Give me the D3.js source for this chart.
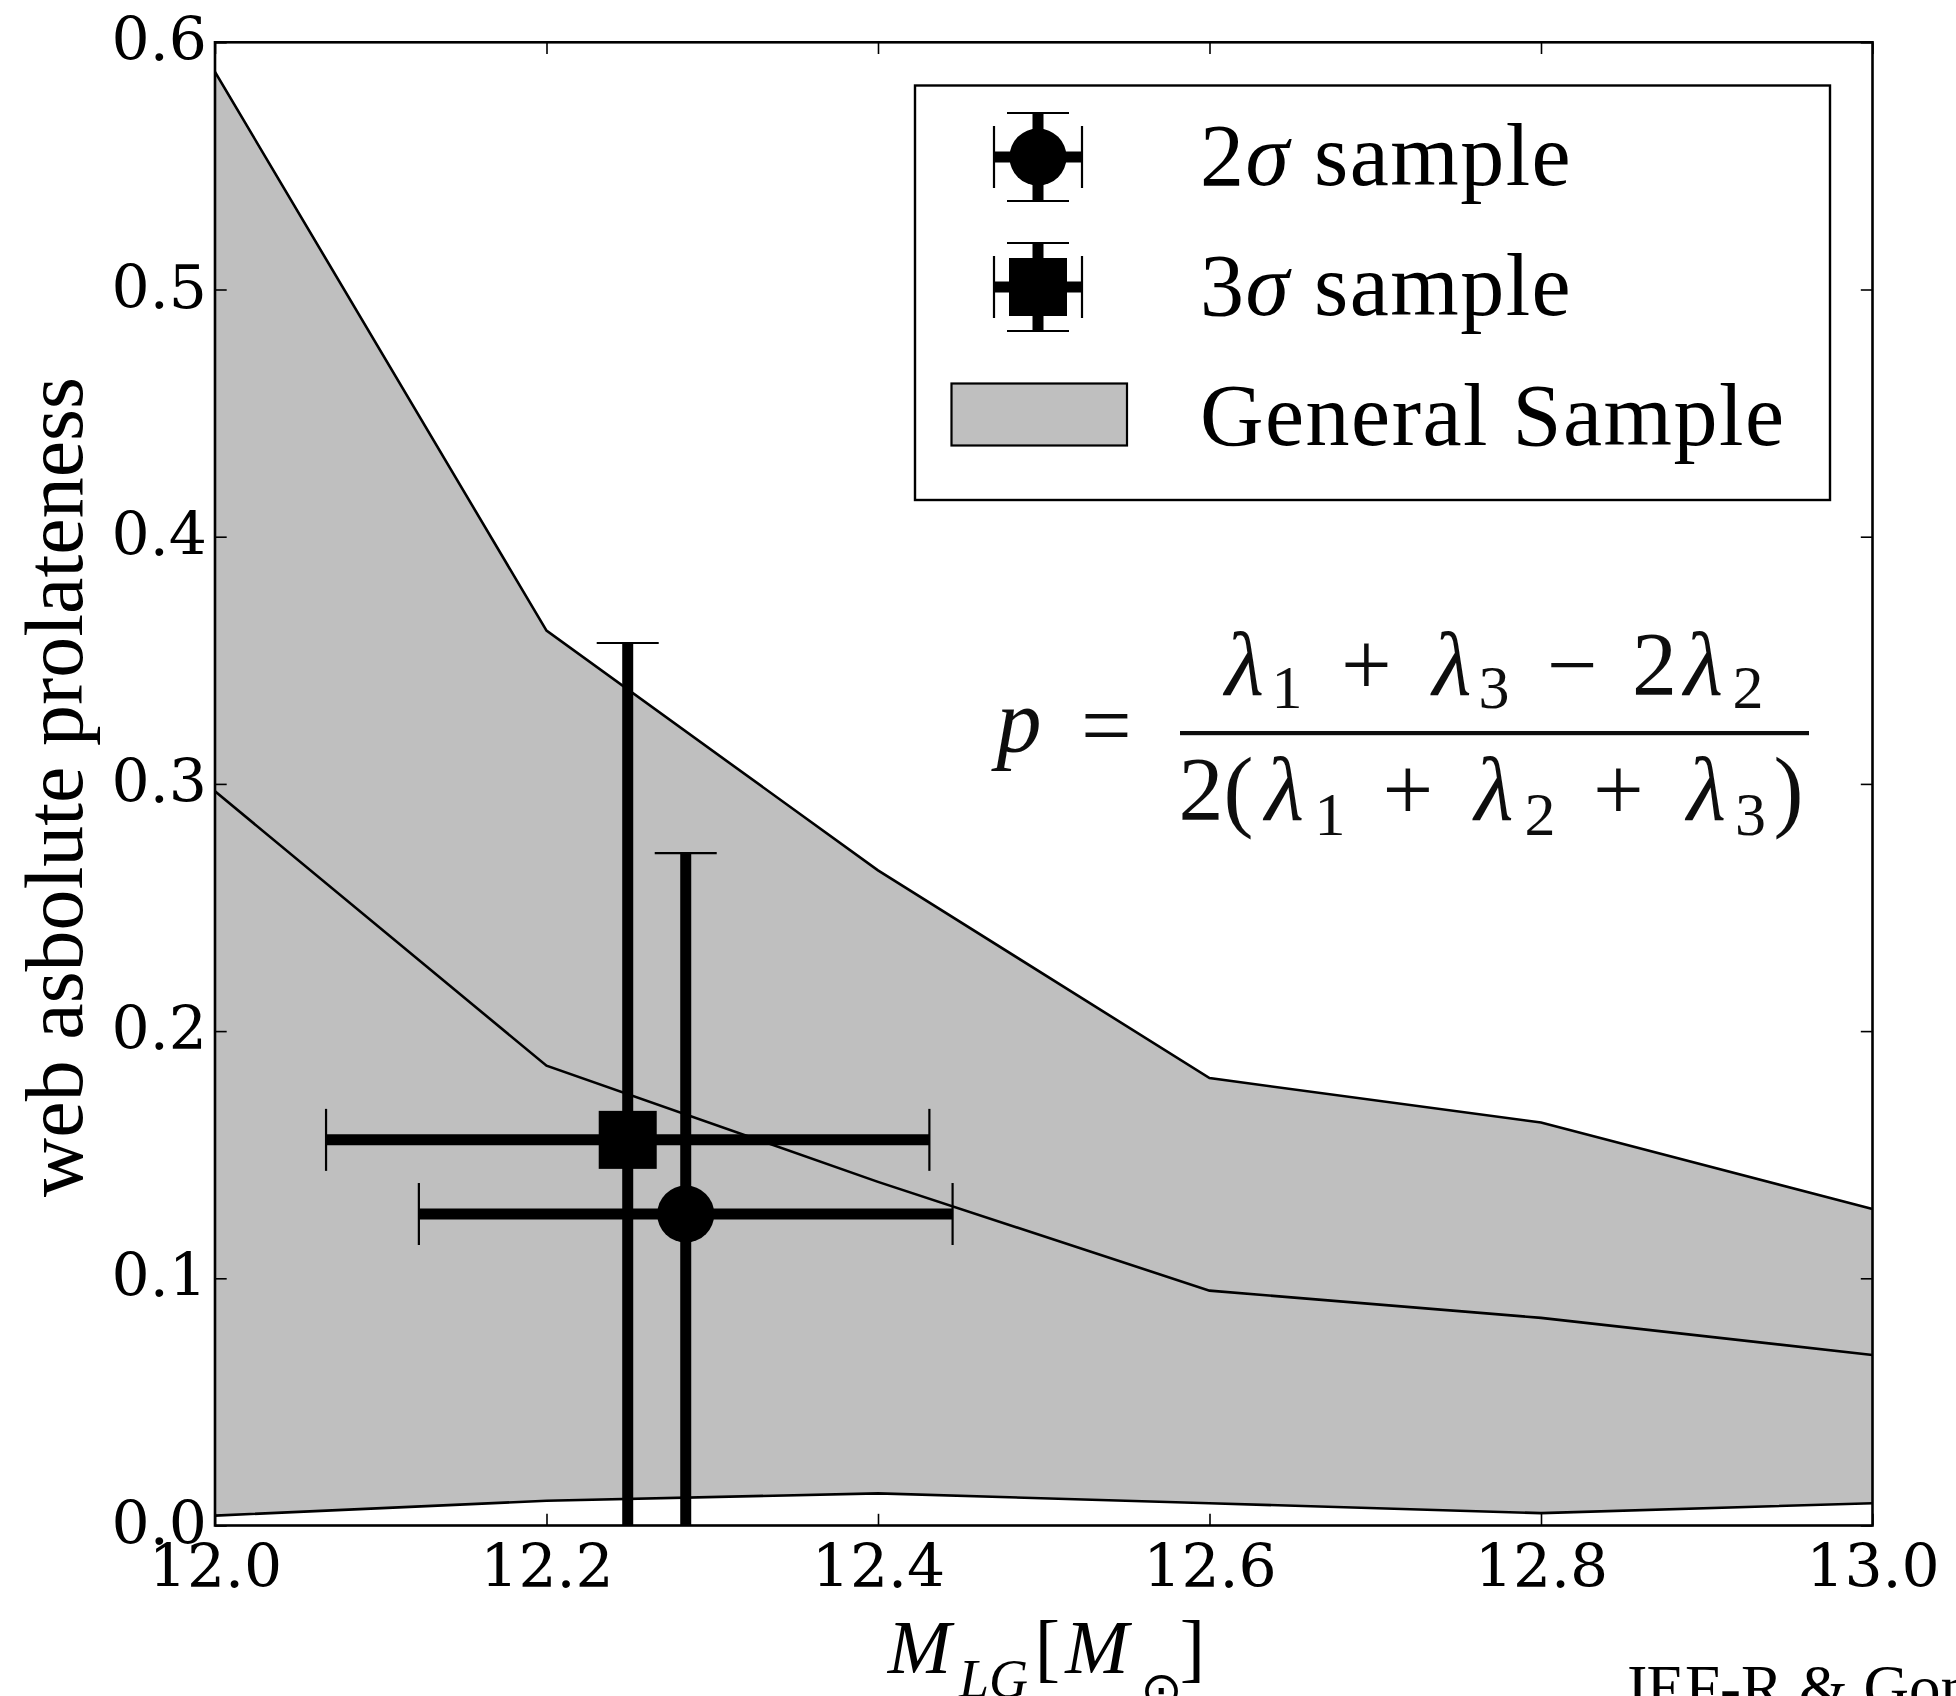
<!DOCTYPE html>
<html>
<head>
<meta charset="utf-8">
<script src="https://cdn.jsdelivr.net/npm/d3@7"></script>
<style>
  html, body { margin: 0; padding: 0; background: #ffffff; }
  svg { display: block; }
</style>
</head>
<body>
<svg id="chart" width="1956" height="1696"></svg>
<script>
// Local Group mass grid and the prolateness band of the general sample
const massGrid   = [12.0, 12.2, 12.4, 12.6, 12.8, 13.0];
const upperBound = [0.588, 0.362, 0.265, 0.181, 0.163, 0.128];
const medianLine = [0.297, 0.186, 0.139, 0.095, 0.084, 0.069];
const lowerBound = [0.004, 0.010, 0.013, 0.009, 0.005, 0.009];

// Constrained samples: mean mass and prolateness with their spreads
const sampleNames          = ["2σ sample", "3σ sample"];
const sampleMarkers        = ["circle", "square"];
const sampleMass           = [12.284, 12.249];
const sampleMassErr        = [0.161, 0.182];
const sampleProlateness    = [0.126, 0.156];
const sampleProlatenessErr = [0.146, 0.201];

// Axis ticks
const xTicks = [12.0, 12.2, 12.4, 12.6, 12.8, 13.0];
const yTicks = [0.0, 0.1, 0.2, 0.3, 0.4, 0.5, 0.6];

const svg = d3.select("#chart");
const plot = { left: 215, right: 1872.5, top: 42.3, bottom: 1525.5 };

const x = d3.scaleLinear().domain([12.0, 13.0]).range([plot.left, plot.right]);
const y = d3.scaleLinear().domain([0.0, 0.6]).range([plot.bottom, plot.top]);

const SERIF = "'Liberation Serif', 'Times New Roman', serif";
const TICKFONT = "'DejaVu Serif', serif";

svg.append("defs").append("clipPath").attr("id", "plot-clip")
  .append("rect")
  .attr("x", plot.left).attr("y", plot.top)
  .attr("width", plot.right - plot.left).attr("height", plot.bottom - plot.top);

const blur = svg.select("defs").append("filter").attr("id", "soft")
  .attr("x", "-5%").attr("y", "-5%").attr("width", "110%").attr("height", "110%");
blur.append("feGaussianBlur").attr("stdDeviation", 0.7);

const band = massGrid.map((m, i) => ({ m, lo: lowerBound[i], hi: upperBound[i], mid: medianLine[i] }));

const data = svg.append("g").attr("clip-path", "url(#plot-clip)");

// general sample band
data.append("path")
  .datum(band)
  .attr("d", d3.area().x(d => x(d.m)).y0(d => y(d.lo)).y1(d => y(d.hi)))
  .attr("fill", "#bfbfbf")
  .attr("stroke", "none");

const lineFor = key => d3.line().x(d => x(d.m)).y(d => y(d[key]));
["hi", "lo", "mid"].forEach(key => {
  data.append("path")
    .datum(band)
    .attr("d", lineFor(key))
    .attr("fill", "none")
    .attr("stroke", "#000")
    .attr("stroke-width", 2.6)
    .attr("stroke-linejoin", "miter");
});

// error bars with caps and markers
const BAR_W = 11, CAP = 31, CAP_W = 2.2;
function drawErrorCross(g, cx, cy, x0, x1, y0, y1, marker) {
  g.append("line").attr("x1", cx).attr("x2", cx).attr("y1", y0).attr("y2", y1)
    .attr("stroke", "#000").attr("stroke-width", BAR_W);
  g.append("line").attr("x1", x0).attr("x2", x1).attr("y1", cy).attr("y2", cy)
    .attr("stroke", "#000").attr("stroke-width", BAR_W);
  [y0, y1].forEach(yy => g.append("line")
    .attr("x1", cx - CAP).attr("x2", cx + CAP).attr("y1", yy).attr("y2", yy)
    .attr("stroke", "#000").attr("stroke-width", CAP_W));
  [x0, x1].forEach(xx => g.append("line")
    .attr("x1", xx).attr("x2", xx).attr("y1", cy - CAP).attr("y2", cy + CAP)
    .attr("stroke", "#000").attr("stroke-width", CAP_W));
  if (marker === "circle") {
    g.append("circle").attr("cx", cx).attr("cy", cy).attr("r", 28.5).attr("fill", "#000");
  } else {
    g.append("rect").attr("x", cx - 29).attr("y", cy - 29).attr("width", 58).attr("height", 58).attr("fill", "#000");
  }
}

sampleNames.forEach((name, i) => {
  const g = data.append("g").attr("class", "sample");
  const m = sampleMass[i], dm = sampleMassErr[i];
  const p = sampleProlateness[i], dp = sampleProlatenessErr[i];
  drawErrorCross(g, x(m), y(p), x(m - dm), x(m + dm), y(p + dp), y(p - dp), sampleMarkers[i]);
});

// axes with inward ticks on all four sides
const TICK = 11.7;
function styleAxis(g) {
  g.select(".domain").remove();
  g.selectAll(".tick line").attr("stroke", "#000").attr("stroke-width", 1.6);
  g.selectAll(".tick text").attr("fill", "#000")
    .attr("font-family", TICKFONT).attr("font-size", 60);
}

const xAxis = svg.append("g").attr("transform", `translate(0,${plot.bottom})`)
  .call(d3.axisBottom(x).tickValues(xTicks).tickFormat(d3.format(".1f"))
    .tickSizeInner(-TICK).tickSizeOuter(0));
styleAxis(xAxis);
xAxis.selectAll(".tick text").attr("y", 61.5).attr("dy", 0);

const yAxis = svg.append("g").attr("transform", `translate(${plot.left},0)`)
  .call(d3.axisLeft(y).tickValues(yTicks).tickFormat(d3.format(".1f"))
    .tickSizeInner(-TICK).tickSizeOuter(0));
styleAxis(yAxis);
yAxis.selectAll(".tick text").attr("x", -8).attr("dy", 17.5).attr("text-anchor", "end");

const topAxis = svg.append("g").attr("transform", `translate(0,${plot.top})`)
  .call(d3.axisTop(x).tickValues(xTicks).tickFormat("").tickSizeInner(-TICK).tickSizeOuter(0));
styleAxis(topAxis);

const rightAxis = svg.append("g").attr("transform", `translate(${plot.right},0)`)
  .call(d3.axisRight(y).tickValues(yTicks).tickFormat("").tickSizeInner(-TICK).tickSizeOuter(0));
styleAxis(rightAxis);

// frame
svg.append("rect")
  .attr("x", plot.left).attr("y", plot.top)
  .attr("width", plot.right - plot.left).attr("height", plot.bottom - plot.top)
  .attr("fill", "none").attr("stroke", "#000").attr("stroke-width", 2.6);

// y axis title
svg.append("text")
  .attr("transform", "translate(82,787) rotate(-90)")
  .attr("text-anchor", "middle")
  .attr("font-family", SERIF).attr("font-size", 82)
  .attr("fill", "#000")
  .text("web asbolute prolateness");

// x axis title: M_LG [M_⊙]
const xl = svg.append("g").attr("fill", "#000").attr("font-family", SERIF);
xl.append("text").attr("x", 919.5).attr("y", 1673).attr("text-anchor", "middle")
  .attr("font-size", 76).attr("font-style", "italic").text("M");
xl.append("text").attr("x", 993.5).attr("y", 1697).attr("text-anchor", "middle")
  .attr("font-size", 54).attr("font-style", "italic").text("LG");
xl.append("text").attr("x", 1047.5).attr("y", 1673).attr("text-anchor", "middle")
  .attr("font-size", 76).text("[");
xl.append("text").attr("x", 1097).attr("y", 1673).attr("text-anchor", "middle")
  .attr("font-size", 76).attr("font-style", "italic").text("M");
xl.append("text").attr("x", 1161.5).attr("y", 1707).attr("text-anchor", "middle")
  .attr("font-family", "'DejaVu Sans', sans-serif").attr("font-size", 50).text("⊙");
xl.append("text").attr("x", 1192.5).attr("y", 1673).attr("text-anchor", "middle")
  .attr("font-size", 76).text("]");

// credit line at the bottom edge
svg.append("text")
  .attr("x", 1622).attr("y", 1709)
  .attr("font-family", SERIF).attr("font-size", 63).attr("fill", "#000")
  .text("JEF-R & Gonzalez");

// legend
const legend = svg.append("g");
legend.append("rect")
  .attr("x", 915).attr("y", 85.5).attr("width", 915).attr("height", 414.5)
  .attr("fill", "#fff").attr("stroke", "#000").attr("stroke-width", 2.4);

const legendRows = [157, 287];
sampleNames.forEach((name, i) => {
  const cy = legendRows[i], cx = 1038;
  drawErrorCross(legend.append("g"), cx, cy, cx - 44, cx + 44, cy - 44, cy + 44, sampleMarkers[i]);
  const [num] = name.split("σ");
  const t = legend.append("text").attr("x", 1200).attr("y", cy + 28)
    .attr("font-family", SERIF).attr("font-size", 88).attr("fill", "#000")
    .attr("letter-spacing", 1.5);
  t.append("tspan").text(num);
  t.append("tspan").attr("font-style", "italic").text("σ");
  t.append("tspan").text(name.slice(num.length + 1));
});
legend.append("rect")
  .attr("x", 951.5).attr("y", 383.5).attr("width", 175.5).attr("height", 62)
  .attr("fill", "#bfbfbf").attr("stroke", "#000").attr("stroke-width", 2.2);
legend.append("text").attr("x", 1200).attr("y", 445)
  .attr("font-family", SERIF).attr("font-size", 88).attr("fill", "#000")
  .attr("letter-spacing", 1.5)
  .text("General Sample");

// prolateness definition
const eq = svg.append("g").attr("filter", "url(#soft)")
  .attr("fill", "#111").attr("font-family", SERIF).attr("text-anchor", "middle");
const sym = (txt, cx, base, size, italic) => eq.append("text")
  .attr("x", cx).attr("y", base).attr("font-size", size)
  .attr("font-style", italic ? "italic" : "normal").text(txt);
sym("p", 1019, 752, 90, true);
sym("=", 1106.5, 756, 90, false);
eq.append("rect").attr("x", 1180).attr("y", 731).attr("width", 629).attr("height", 4.2).attr("fill", "#111");
// numerator
sym("λ", 1244.5, 695, 90, true);  sym("1", 1287, 708, 62, false);
sym("+", 1366.5, 695, 90, false);
sym("λ", 1452, 695, 90, true);    sym("3", 1494, 708, 62, false);
sym("−", 1572.5, 695, 90, false);
sym("2", 1654.5, 695, 90, false);
sym("λ", 1703.5, 695, 90, true);  sym("2", 1748, 708, 62, false);
// denominator
sym("2", 1201, 820, 90, false);
sym("(", 1238.5, 820, 90, false);
sym("λ", 1284.5, 820, 90, true);  sym("1", 1330, 835, 62, false);
sym("+", 1408, 820, 90, false);
sym("λ", 1494, 820, 90, true);    sym("2", 1540, 835, 62, false);
sym("+", 1618.5, 820, 90, false);
sym("λ", 1706.5, 820, 90, true);  sym("3", 1750.5, 835, 62, false);
sym(")", 1788.5, 820, 90, false);
</script>
</body>
</html>
